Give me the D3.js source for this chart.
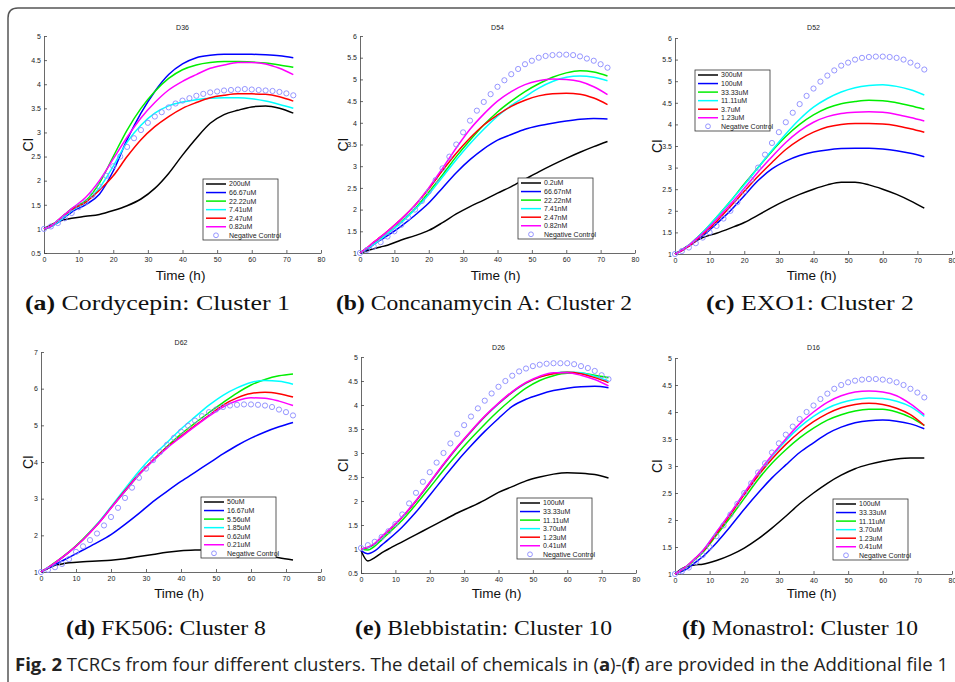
<!DOCTYPE html>
<html><head><meta charset="utf-8">
<script src="https://cdn.jsdelivr.net/npm/d3@7"></script>
<style>body{margin:0;background:#fff}svg{display:block}</style>
</head><body>
<svg id="c" width="955" height="682"></svg>
<script>
// ---------- data ----------
const times = [0,2,4,6,8,12,16,20,24,28,32,36,40,44,48,52,56,60,64,68,72];
const ctrlTimes = [0,2,4,6,8,10,12,14,16,18,20,22,24,26,28,30,32,34,36,38,40,42,44,46,48,50,52,54,56,58,60,62,64,66,68,70,72];
const xTicks = [0,10,20,30,40,50,60,70,80];
const titles = ["D36","D54","D52","D62","D26","D16"];
const capLetters = ["(a)","(b)","(c)","(d)","(e)","(f)"];
const capTexts = ["Cordycepin: Cluster 1","Concanamycin A: Cluster 2","EXO1: Cluster 2","FK506: Cluster 8","Blebbistatin: Cluster 10","Monastrol: Cluster 10"];

const legendA = ["200uM","66.67uM","22.22uM","7.41uM","2.47uM","0.82uM","Negative Control"];
const legendB = ["0.2uM","66.67nM","22.22nM","7.41nM","2.47nM","0.82nM","Negative Control"];
const legendC = ["300uM","100uM","33.33uM","11.11uM","3.7uM","1.23uM","Negative Control"];
const legendD = ["50uM","16.67uM","5.56uM","1.85uM","0.62uM","0.21uM","Negative Control"];
const legendE = ["100uM","33.33uM","11.11uM","3.70uM","1.23uM","0.41uM","Negative Control"];
const legendF = ["100uM","33.33uM","11.11uM","3.70uM","1.23uM","0.41uM","Negative Control"];

const ticksA = [0.5,1,1.5,2,2.5,3,3.5,4,4.5,5];
const ticksB = [1,1.5,2,2.5,3,3.5,4,4.5,5,5.5,6];
const ticksC = [1,1.5,2,2.5,3,3.5,4,4.5,5,5.5,6];
const ticksD = [1,2,3,4,5,6,7];
const ticksE = [0.5,1,1.5,2,2.5,3,3.5,4,4.5,5];
const ticksF = [1,1.5,2,2.5,3,3.5,4,4.5,5];

// panel a (D36)
const linesA = [
 [1,1.08,1.15,1.19,1.22,1.26,1.3,1.38,1.48,1.62,1.84,2.15,2.53,2.88,3.19,3.37,3.46,3.53,3.55,3.5,3.4],
 [1,1.05,1.13,1.24,1.35,1.5,1.72,2.2,2.85,3.4,3.85,4.2,4.42,4.55,4.6,4.62,4.62,4.62,4.61,4.59,4.55],
 [1,1.06,1.18,1.3,1.42,1.58,1.95,2.5,3.05,3.5,3.85,4.12,4.3,4.4,4.45,4.47,4.47,4.46,4.44,4.4,4.35],
 [1,1.05,1.14,1.26,1.38,1.55,1.85,2.3,2.8,3.15,3.4,3.55,3.63,3.68,3.71,3.72,3.72,3.7,3.65,3.58,3.5],
 [1,1.06,1.17,1.29,1.4,1.55,1.8,2.1,2.5,2.85,3.12,3.33,3.5,3.62,3.72,3.77,3.8,3.8,3.79,3.74,3.65],
 [1,1.06,1.18,1.3,1.42,1.65,2.0,2.45,2.9,3.3,3.62,3.88,4.06,4.2,4.33,4.4,4.45,4.45,4.42,4.33,4.2]
];
const ctrlA = [1,1.05,1.12,1.22,1.33,1.45,1.55,1.7,1.88,2.1,2.3,2.5,2.7,2.88,3.05,3.2,3.33,3.42,3.52,3.6,3.66,3.71,3.76,3.8,3.83,3.85,3.87,3.88,3.89,3.9,3.89,3.88,3.87,3.86,3.84,3.81,3.77];

// panel b (D54)
const linesB = [
 [1,1.05,1.1,1.14,1.18,1.3,1.4,1.52,1.7,1.9,2.07,2.22,2.38,2.53,2.7,2.87,3.03,3.18,3.32,3.45,3.57],
 [1,1.08,1.2,1.3,1.4,1.62,1.87,2.15,2.5,2.85,3.15,3.4,3.6,3.73,3.85,3.93,3.99,4.04,4.08,4.1,4.09],
 [1,1.1,1.22,1.33,1.45,1.72,2.02,2.4,2.8,3.22,3.6,3.95,4.25,4.5,4.72,4.9,5.05,5.15,5.2,5.17,5.08],
 [1,1.1,1.2,1.32,1.45,1.7,2.0,2.35,2.75,3.15,3.52,3.85,4.15,4.4,4.6,4.8,4.95,5.05,5.08,5.05,4.97],
 [1,1.12,1.25,1.37,1.5,1.78,2.1,2.48,2.9,3.3,3.65,3.95,4.18,4.38,4.52,4.62,4.67,4.68,4.66,4.57,4.42],
 [1,1.12,1.25,1.37,1.5,1.78,2.1,2.5,2.95,3.42,3.85,4.2,4.5,4.72,4.88,4.97,5.01,5.0,4.95,4.83,4.65]
];
const ctrlB = [1,1.07,1.15,1.25,1.38,1.5,1.65,1.82,2.0,2.2,2.42,2.68,2.95,3.22,3.5,3.78,4.05,4.28,4.48,4.66,4.83,4.98,5.12,5.24,5.35,5.43,5.5,5.54,5.56,5.57,5.57,5.56,5.53,5.48,5.43,5.35,5.27];

// panel c (D52)
const linesC = [
 [1,1.1,1.2,1.3,1.38,1.48,1.6,1.73,1.9,2.08,2.24,2.38,2.5,2.6,2.66,2.66,2.6,2.5,2.38,2.23,2.06],
 [1,1.08,1.18,1.3,1.42,1.7,2.0,2.35,2.7,2.97,3.15,3.28,3.36,3.41,3.44,3.45,3.45,3.43,3.39,3.33,3.25],
 [1,1.09,1.2,1.35,1.5,1.85,2.22,2.62,3.0,3.38,3.72,4.0,4.22,4.38,4.48,4.53,4.56,4.55,4.5,4.43,4.35],
 [1,1.09,1.2,1.35,1.5,1.85,2.22,2.6,3.0,3.4,3.78,4.12,4.4,4.6,4.75,4.85,4.9,4.92,4.88,4.8,4.68],
 [1,1.08,1.18,1.31,1.45,1.75,2.1,2.45,2.8,3.12,3.42,3.65,3.82,3.94,4.0,4.02,4.02,4.01,3.97,3.9,3.82],
 [1,1.09,1.2,1.34,1.48,1.8,2.15,2.52,2.9,3.25,3.58,3.85,4.05,4.18,4.25,4.28,4.29,4.28,4.23,4.16,4.08]
];
const ctrlC = [1,1.07,1.15,1.25,1.38,1.5,1.65,1.82,2.0,2.2,2.45,2.72,3.0,3.3,3.57,3.82,4.05,4.27,4.47,4.66,4.83,4.99,5.13,5.25,5.36,5.43,5.5,5.54,5.56,5.57,5.57,5.56,5.54,5.5,5.43,5.36,5.27];

// panel d (D62)
const linesD = [
 [1,1.1,1.18,1.22,1.25,1.28,1.3,1.32,1.36,1.42,1.48,1.54,1.58,1.6,1.61,1.6,1.57,1.52,1.46,1.39,1.33],
 [1,1.1,1.2,1.3,1.4,1.6,1.8,2.02,2.3,2.6,2.92,3.2,3.47,3.72,3.97,4.22,4.45,4.65,4.82,4.96,5.08],
 [1,1.12,1.26,1.4,1.55,1.9,2.3,2.75,3.2,3.65,4.05,4.42,4.76,5.06,5.35,5.62,5.88,6.1,6.25,6.35,6.4],
 [1,1.12,1.25,1.39,1.54,1.88,2.3,2.78,3.27,3.75,4.17,4.53,4.9,5.23,5.55,5.82,6.02,6.17,6.22,6.2,6.12],
 [1,1.12,1.25,1.39,1.54,1.88,2.28,2.75,3.22,3.67,4.05,4.4,4.7,4.99,5.27,5.55,5.75,5.87,5.9,5.86,5.77],
 [1,1.12,1.25,1.39,1.54,1.88,2.28,2.74,3.2,3.65,4.03,4.38,4.68,4.97,5.25,5.5,5.67,5.75,5.74,5.66,5.54]
];
const ctrlD = [1,1.06,1.13,1.22,1.35,1.55,1.7,1.87,2.05,2.27,2.5,2.75,3.02,3.3,3.57,3.82,4.05,4.27,4.47,4.66,4.83,4.99,5.13,5.25,5.36,5.43,5.5,5.54,5.56,5.57,5.57,5.56,5.54,5.5,5.43,5.36,5.27];

// panel e (D26)
const linesE = [
 [0.97,0.75,0.82,0.92,1.0,1.15,1.3,1.45,1.6,1.75,1.88,2.02,2.18,2.3,2.42,2.5,2.56,2.59,2.58,2.55,2.48],
 [0.97,0.9,0.96,1.08,1.2,1.46,1.77,2.12,2.48,2.83,3.15,3.45,3.72,3.97,4.12,4.22,4.3,4.35,4.38,4.39,4.36],
 [1,0.98,1.06,1.19,1.33,1.6,1.93,2.28,2.64,2.98,3.3,3.6,3.88,4.13,4.35,4.51,4.61,4.66,4.66,4.62,4.57],
 [1,1.02,1.1,1.24,1.38,1.66,2.0,2.37,2.75,3.11,3.44,3.75,4.02,4.26,4.45,4.58,4.66,4.69,4.67,4.6,4.5],
 [1,1.03,1.11,1.25,1.38,1.66,2.0,2.38,2.76,3.12,3.45,3.76,4.03,4.27,4.46,4.58,4.65,4.68,4.65,4.57,4.47],
 [1,1.04,1.12,1.26,1.39,1.67,2.01,2.39,2.77,3.13,3.46,3.77,4.04,4.28,4.47,4.6,4.67,4.67,4.62,4.53,4.4]
];
const ctrlE = [1.02,1.08,1.15,1.25,1.37,1.52,1.72,1.95,2.17,2.4,2.6,2.8,3.0,3.2,3.4,3.58,3.76,3.93,4.09,4.24,4.38,4.5,4.61,4.7,4.76,4.81,4.84,4.86,4.87,4.87,4.87,4.85,4.81,4.77,4.71,4.62,4.54];

// panel f (D16)
const linesF = [
 [1,1.1,1.15,1.17,1.18,1.25,1.35,1.48,1.65,1.85,2.07,2.3,2.5,2.68,2.83,2.95,3.03,3.09,3.13,3.15,3.15],
 [1,1.05,1.12,1.22,1.32,1.58,1.88,2.2,2.5,2.78,3.02,3.25,3.43,3.6,3.72,3.8,3.84,3.85,3.83,3.78,3.69],
 [1,1.07,1.17,1.28,1.4,1.72,2.05,2.4,2.75,3.05,3.3,3.52,3.7,3.85,3.95,4.02,4.05,4.05,4.0,3.9,3.75],
 [1,1.08,1.18,1.3,1.43,1.78,2.12,2.5,2.85,3.18,3.47,3.72,3.92,4.07,4.17,4.23,4.26,4.25,4.2,4.1,3.92],
 [1,1.08,1.18,1.3,1.42,1.75,2.1,2.47,2.82,3.13,3.4,3.63,3.82,3.97,4.08,4.14,4.16,4.14,4.07,3.95,3.75],
 [1,1.08,1.18,1.3,1.43,1.78,2.13,2.5,2.87,3.2,3.5,3.78,4.0,4.18,4.3,4.37,4.39,4.37,4.3,4.15,3.95]
];
const ctrlF = [1,1.05,1.12,1.22,1.35,1.5,1.7,1.9,2.1,2.3,2.5,2.68,2.88,3.05,3.25,3.42,3.58,3.73,3.87,4.0,4.12,4.24,4.34,4.43,4.5,4.55,4.58,4.6,4.61,4.61,4.6,4.58,4.55,4.5,4.43,4.36,4.27];

const colors = ["#000000","#0000ff","#00ee00","#00ffff","#ff0000","#ff00ff"];
const ctrlColor = "#8a8aff";

// ---------- layout ----------
const panels = [
 {x0:44, x1:321, yT:36, yB:253, lo:0.5, hi:5, ticks:ticksA, lines:linesA, ctrl:ctrlA, legend:legendA, lg:[203,179], titleY:30, ciX:28, timeY:280, cap:[25,310,265]},
 {x0:360,x1:635, yT:36, yB:253, lo:1, hi:6, ticks:ticksB, lines:linesB, ctrl:ctrlB, legend:legendB, lg:[518,178], titleY:30, ciX:343, timeY:280, cap:[336,310,296]},
 {x0:675,x1:952, yT:38, yB:254, lo:1, hi:6, ticks:ticksC, lines:linesC, ctrl:ctrlC, legend:legendC, lg:[695,70], titleY:30, ciX:657, timeY:280, cap:[706,310,208]},
 {x0:41, x1:321, yT:352, yB:572, lo:1, hi:7, ticks:ticksD, lines:linesD, ctrl:ctrlD, legend:legendD, lg:[201,497], titleY:345, ciX:28, timeY:598, cap:[66,635,200]},
 {x0:361,x1:636, yT:357, yB:573, lo:0.5, hi:5, ticks:ticksE, lines:linesE, ctrl:ctrlE, legend:legendE, lg:[517,498], titleY:350, ciX:343, timeY:598, cap:[355,635,257]},
 {x0:675,x1:952, yT:358, yB:574, lo:1, hi:5, ticks:ticksF, lines:linesF, ctrl:ctrlF, legend:legendF, lg:[833,499], titleY:350, ciX:657, timeY:598, cap:[682,635,236]}
];

const svg = d3.select("#c");
svg.append("rect").attr("width",955).attr("height",682).attr("fill","#fff");
// frame
svg.append("path").attr("d","M8,700 L8,18 Q8,8 18,8 L970,8").attr("fill","none").attr("stroke","#555").attr("stroke-width",1.5);

panels.forEach((p,i)=>{
  const x = d3.scaleLinear().domain([0,80]).range([p.x0,p.x1]);
  const y = d3.scaleLinear().domain([p.lo,p.hi]).range([p.yB,p.yT]);
  const g = svg.append("g");
  const ax = g.append("g").attr("transform",`translate(0,${p.yB})`)
    .call(d3.axisBottom(x).tickValues(xTicks).tickSizeInner(-3).tickSizeOuter(0).tickPadding(4).tickFormat(d=>String(d)));
  const ay = g.append("g").attr("transform",`translate(${p.x0},0)`)
    .call(d3.axisLeft(y).tickValues(p.ticks).tickSizeInner(-3).tickSizeOuter(0).tickPadding(3).tickFormat(d=>String(d)));
  [ax,ay].forEach(a=>{
    a.selectAll("path").attr("stroke","#444").attr("stroke-width",0.8);
    a.selectAll("line").attr("stroke","#444").attr("stroke-width",0.8);
    a.selectAll("text").attr("font-family","Liberation Sans, Arial, sans-serif").attr("font-size",7).attr("fill","#222");
  });
  g.append("text").attr("x",(p.x0+p.x1)/2).attr("y",p.titleY).attr("text-anchor","middle")
    .attr("font-family","Liberation Sans, Arial, sans-serif").attr("font-size",7).attr("fill","#222").text(titles[i]);
  g.append("text").attr("x",(p.x0+p.x1)/2-2).attr("y",p.timeY).attr("text-anchor","middle")
    .attr("font-family","Liberation Sans, Arial, sans-serif").attr("font-size",13.5).attr("fill","#111").text("Time (h)");
  g.append("text").attr("transform",`translate(${p.ciX+5},${(p.yT+p.yB)/2}) rotate(-90)`).attr("text-anchor","middle")
    .attr("font-family","Liberation Sans, Arial, sans-serif").attr("font-size",14).attr("fill","#111").text("CI");
  const line = d3.line().x((d,k)=>x(times[k])).y(d=>y(d)).curve(d3.curveMonotoneX);
  p.lines.forEach((s,k)=>{
    g.append("path").attr("d",line(s)).attr("fill","none").attr("stroke",colors[k]).attr("stroke-width",1.5);
  });
  g.selectAll(null).data(p.ctrl).enter().append("circle")
    .attr("cx",(d,k)=>x(ctrlTimes[k])).attr("cy",d=>y(d)).attr("r",2.6)
    .attr("fill","none").attr("stroke",ctrlColor).attr("stroke-width",0.9);
  const lg = g.append("g").attr("transform",`translate(${p.lg[0]},${p.lg[1]})`);
  lg.append("rect").attr("width",75).attr("height",61).attr("fill","#fff").attr("stroke","#333").attr("stroke-width",0.8);
  p.legend.forEach((lab,k)=>{
    const cy = 5 + k*8.55;
    if(k<6){
      lg.append("line").attr("x1",3).attr("x2",23).attr("y1",cy).attr("y2",cy).attr("stroke",colors[k]).attr("stroke-width",1.5);
    } else {
      lg.append("circle").attr("cx",13).attr("cy",cy).attr("r",2.4).attr("fill","none").attr("stroke",ctrlColor).attr("stroke-width",0.9);
    }
    lg.append("text").attr("x",26).attr("y",cy+2.4).attr("font-family","Liberation Sans, Arial, sans-serif")
      .attr("font-size",7).attr("fill","#222").text(lab);
  });
  const t = svg.append("text").attr("x",p.cap[0]).attr("y",p.cap[1])
    .attr("font-family","Liberation Serif, Times New Roman, serif").attr("font-size",22).attr("fill","#111")
    .attr("textLength",p.cap[2]).attr("lengthAdjust","spacingAndGlyphs");
  t.append("tspan").attr("font-weight","bold").text(capLetters[i]);
  t.append("tspan").text(" "+capTexts[i]);
});

const fc = svg.append("text").attr("x",15).attr("y",671).attr("font-family","Open Sans, sans-serif").attr("font-size",18.5).attr("fill","#222");
fc.append("tspan").attr("font-weight","bold").text("Fig. 2");
fc.append("tspan").text("  TCRCs from four different clusters. The detail of chemicals in (");
fc.append("tspan").attr("font-weight","bold").text("a");
fc.append("tspan").text(")-(");
fc.append("tspan").attr("font-weight","bold").text("f");
fc.append("tspan").text(") are provided in the Additional file 1");
fc.attr("textLength",933).attr("lengthAdjust","spacingAndGlyphs");
</script>
</body></html>
